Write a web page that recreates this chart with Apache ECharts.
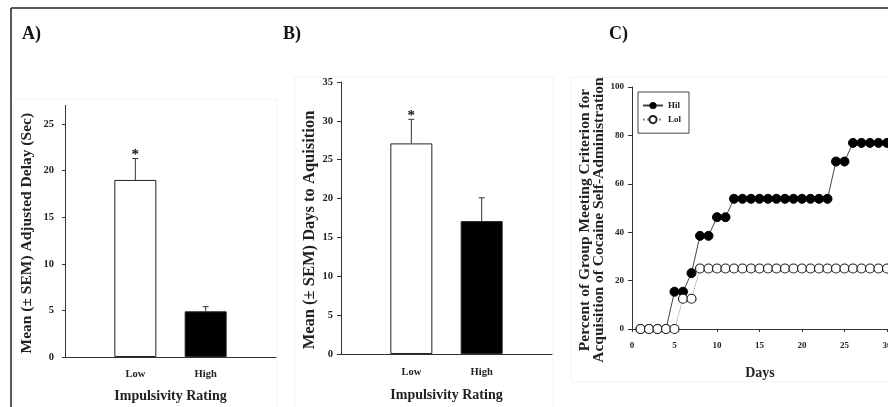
<!DOCTYPE html>
<html>
<head>
<meta charset="utf-8">
<script src="https://cdn.jsdelivr.net/npm/echarts@6/dist/echarts.min.js"></script>
<style>
html,body{margin:0;padding:0;background:#fff;}
#c{width:888px;height:407px;}
</style>
</head>
<body>
<div id="c"></div>
<script>
// ---- Data ----
const barCategories = ['', 'Low', 'High', ''];
const delayMeans = [null, 19.0, 4.9, null];
const delaySem = [null, 2.3, 0.5, null];
const acqMeans = [null, 27.1, 17.1, null];
const acqSem = [null, 3.1, 3.0, null];
const sigMarks = ['', '*', '', ''];
const yTicksA = [0, 5, 10, 15, 20, 25];
const xTicksC = [0, 5, 10, 15, 20, 25, 30];

const days = [1,2,3,4,5,6,7,8,9,10,11,12,13,14,15,16,17,18,19,20,21,22,23,24,25,26,27,28,29,30];
const hilValues = [0,0,0,0,15.4,15.4,23.1,38.5,38.5,46.2,46.2,53.8,53.8,53.8,53.8,53.8,53.8,53.8,53.8,53.8,53.8,53.8,53.8,69.2,69.2,76.9,76.9,76.9,76.9,76.9];
const lolValues = [0,0,0,0,0,12.5,12.5,25,25,25,25,25,25,25,25,25,25,25,25,25,25,25,25,25,25,25,25,25,25,25];

const FONT = "'Liberation Serif','Times New Roman',serif";
const AX = '#333';

function errSeries(idx, means, sems) {
  const data = [];
  for (let i = 0; i < means.length; i++) {
    if (means[i] != null) data.push([i, means[i], sems[i], sigMarks[i]]);
  }
  return {
    type: 'custom', xAxisIndex: idx, yAxisIndex: idx, z: 5,
    data: data,
    renderItem: function (params, api) {
      const x = api.value(0), m = api.value(1), e = api.value(2);
      const mark = data[params.dataIndex][3];
      const p0 = api.coord([x, m]);
      const p1 = api.coord([x, m + e]);
      const ch = [
        {type: 'line', shape: {x1: p0[0], y1: p0[1], x2: p1[0], y2: p1[1]}, style: {stroke: AX, lineWidth: 1}},
        {type: 'line', shape: {x1: p1[0] - 3, y1: p1[1], x2: p1[0] + 3, y2: p1[1]}, style: {stroke: AX, lineWidth: 1}}
      ];
      if (mark) {
        ch.push({type: 'text', style: {text: mark, x: p1[0], y: p1[1] + 4, textAlign: 'center', textVerticalAlign: 'bottom', font: 'bold 15px ' + FONT, fill: '#111'}});
      }
      return {type: 'group', children: ch};
    }
  };
}

const option = {
  animation: false,
  backgroundColor: '#fff',
  textStyle: {fontFamily: FONT},
  graphic: [
    {type: 'line', shape: {x1: 11, y1: 8, x2: 888, y2: 8}, style: {stroke: '#222', lineWidth: 1.5}},
    {type: 'line', shape: {x1: 11, y1: 8, x2: 11, y2: 407}, style: {stroke: '#222', lineWidth: 1.5}},
    {type: 'rect', shape: {x: 14, y: 99, width: 263, height: 320}, style: {fill: 'none', stroke: '#f3f3f3', lineWidth: 1}, z: -1},
    {type: 'rect', shape: {x: 295, y: 77, width: 258, height: 340}, style: {fill: 'none', stroke: '#f3f3f3', lineWidth: 1}, z: -1},
    {type: 'rect', shape: {x: 571, y: 77, width: 330, height: 305}, style: {fill: 'none', stroke: '#f3f3f3', lineWidth: 1}, z: -1},
    {type: 'text', left: 22, top: 25, style: {text: 'A)', font: 'bold 18px ' + FONT, fill: '#111'}},
    {type: 'text', left: 283, top: 25, style: {text: 'B)', font: 'bold 18px ' + FONT, fill: '#111'}},
    {type: 'text', left: 609, top: 25, style: {text: 'C)', font: 'bold 18px ' + FONT, fill: '#111'}}
  ],
  grid: [
    {left: 65, top: 105.4, width: 211, height: 251.6, outerBoundsMode: 'none'},
    {left: 341, top: 82, width: 211, height: 272, outerBoundsMode: 'none'},
    {left: 632, top: 87, width: 256, height: 242, outerBoundsMode: 'none'}
  ],
  legend: {
    data: ['Hil', 'Lol'],
    orient: 'vertical', left: 638, top: 92,
    borderColor: '#444', borderWidth: 1,
    padding: [9, 8, 9, 4],
    itemWidth: 20, itemHeight: 9, itemGap: 5,
    textStyle: {fontFamily: FONT, fontWeight: 'bold', fontSize: 9, color: '#222'}
  },
  xAxis: [
    {gridIndex: 0, type: 'category', data: barCategories, boundaryGap: false,
     axisLine: {lineStyle: {color: AX}}, axisTick: {show: false},
     axisLabel: {fontFamily: FONT, fontWeight: 'bold', fontSize: 10.5, color: '#222', margin: 12},
     name: 'Impulsivity Rating', nameLocation: 'middle', nameGap: 32,
     nameTextStyle: {fontFamily: FONT, fontWeight: 'bold', fontSize: 14, color: '#222'}},
    {gridIndex: 1, type: 'category', data: barCategories, boundaryGap: false,
     axisLine: {lineStyle: {color: AX}}, axisTick: {show: false},
     axisLabel: {fontFamily: FONT, fontWeight: 'bold', fontSize: 10.5, color: '#222', margin: 13},
     name: 'Impulsivity Rating', nameLocation: 'middle', nameGap: 34,
     nameTextStyle: {fontFamily: FONT, fontWeight: 'bold', fontSize: 14, color: '#222'}},
    {gridIndex: 2, type: 'value', min: 0, max: 30.12,
     axisLine: {lineStyle: {color: AX}},
     axisTick: {show: true, length: 3, lineStyle: {color: AX}, customValues: xTicksC},
     splitLine: {show: false},
     axisLabel: {fontFamily: FONT, fontWeight: 'bold', fontSize: 9, color: '#222', margin: 12, customValues: xTicksC},
     name: 'Days', nameLocation: 'middle', nameGap: 37,
     nameTextStyle: {fontFamily: FONT, fontWeight: 'bold', fontSize: 14, color: '#222'}}
  ],
  yAxis: [
    {gridIndex: 0, type: 'value', min: 0, max: 27,
     axisLine: {show: true, lineStyle: {color: AX}},
     axisTick: {show: true, length: 3, lineStyle: {color: AX}, customValues: yTicksA},
     splitLine: {show: false},
     axisLabel: {fontFamily: FONT, fontWeight: 'bold', fontSize: 10.5, color: '#222', margin: 11, customValues: yTicksA},
     name: 'Mean (\u00B1 SEM) Adjusted Delay (Sec)', nameLocation: 'middle', nameGap: 30, nameRotate: 90,
     nameTextStyle: {fontFamily: FONT, fontWeight: 'bold', fontSize: 15.5, color: '#222', padding: [0, 4, 0, 0]}},
    {gridIndex: 1, type: 'value', min: 0, max: 35, interval: 5,
     axisLine: {show: true, lineStyle: {color: AX}},
     axisTick: {show: true, length: 4, lineStyle: {color: AX}},
     splitLine: {show: false},
     axisLabel: {fontFamily: FONT, fontWeight: 'bold', fontSize: 10.5, color: '#222', margin: 8},
     name: 'Mean (\u00B1 SEM) Days to Aquisition', nameLocation: 'middle', nameGap: 20, nameRotate: 90,
     nameTextStyle: {fontFamily: FONT, fontWeight: 'bold', fontSize: 16.5, color: '#222', padding: [0, 24, 0, 0]}},
    {gridIndex: 2, type: 'value', min: 0, max: 100, interval: 20,
     axisLine: {show: true, lineStyle: {color: AX}},
     axisTick: {show: true, length: 4, lineStyle: {color: AX}},
     splitLine: {show: false},
     axisLabel: {fontFamily: FONT, fontWeight: 'bold', fontSize: 9, color: '#222', margin: 8},
     name: 'Percent of Group Meeting Criterion for\nAcquisition of Cocaine Self-Administration',
     nameLocation: 'middle', nameGap: 26, nameRotate: 90,
     nameTextStyle: {fontFamily: FONT, fontWeight: 'bold', fontSize: 15.5, color: '#222', lineHeight: 14, padding: [0, 24, 0, 0]}}
  ],
  series: [
    {type: 'bar', xAxisIndex: 0, yAxisIndex: 0, barWidth: 42,
     data: delayMeans.map((v, i) => v == null ? null : {value: v, itemStyle: {color: i === 1 ? '#fff' : '#000', borderColor: '#222', borderWidth: 1}})},
    errSeries(0, delayMeans, delaySem),
    {type: 'bar', xAxisIndex: 1, yAxisIndex: 1, barWidth: 42,
     data: acqMeans.map((v, i) => v == null ? null : {value: v, itemStyle: {color: i === 1 ? '#fff' : '#000', borderColor: '#222', borderWidth: 1}})},
    errSeries(1, acqMeans, acqSem),
    {name: 'Hil', type: 'line', xAxisIndex: 2, yAxisIndex: 2, z: 3,
     data: days.map((d, i) => [d, hilValues[i]]),
     symbol: 'circle', symbolSize: 9, showAllSymbol: true,
     itemStyle: {color: '#000', borderColor: '#000'},
     lineStyle: {color: '#444', width: 1}},
    {name: 'Lol', type: 'line', xAxisIndex: 2, yAxisIndex: 2, z: 4,
     data: days.map((d, i) => [d, lolValues[i]]),
     symbol: 'circle', symbolSize: 9, showAllSymbol: true,
     itemStyle: {color: '#fff', borderColor: '#222', borderWidth: 1.2},
     lineStyle: {color: '#888', width: 1, type: 'dotted'}}
  ]
};

const chart = echarts.init(document.getElementById('c'), null, {renderer: 'canvas'});
chart.setOption(option);
</script>
</body>
</html>
